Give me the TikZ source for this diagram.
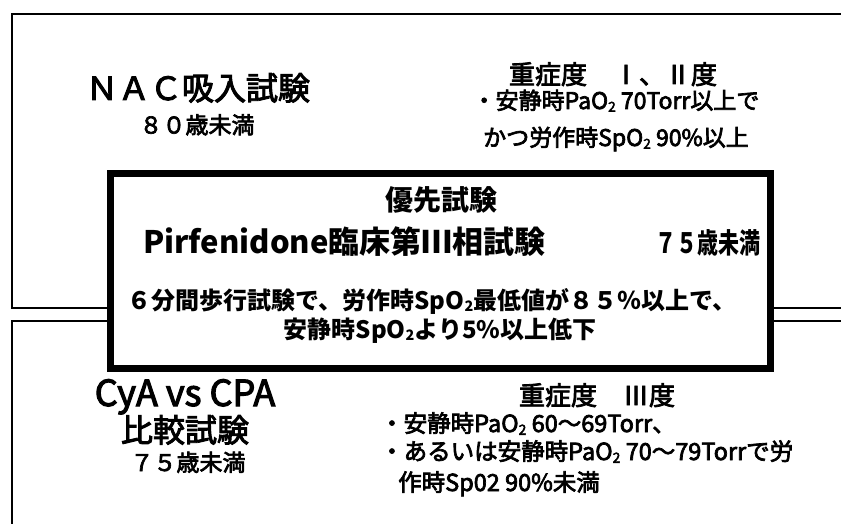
\documentclass[tikz,border=0pt]{standalone}
\usepackage{graphicx}
\usepackage{fontspec}
\setmainfont{Noto Sans CJK JP}
\newfontfamily\jpmed{Noto Sans CJK JP}[FakeBold=3]
\newcommand\mysub[1]{\raisebox{-0.12em}{\scalebox{0.6}{#1}}}
\begin{document}
\begin{tikzpicture}[x=1pt,y=-1pt,
  frame/.style={line width=2pt},
  mainbox/.style={draw, line width=7pt, minimum width=660pt, minimum height=195pt, inner sep=0pt},
  lbl/.style={inner sep=0pt, anchor=base},
  lblw/.style={inner sep=0pt, anchor=base west},
  fs/.style={font=\jpmed\fontsize{#1}{#1}\selectfont},
  fsb/.style={font=\bfseries\fontsize{#1}{#1}\selectfont}
]
\useasboundingbox (0,0) rectangle (841,524);
\fill[white] (0,0) rectangle (841,524);
% frames
\coordinate (tr) at (841,14);
\coordinate (tl) at (12,14);
\coordinate (tbl) at (12,308);
\coordinate (tbm) at (110.5,308);
\coordinate (tbr1) at (770.5,308);
\coordinate (tbr2) at (841,308);
\coordinate (lbm) at (110.5,321);
\coordinate (ltl) at (12,321);
\coordinate (lbl) at (12,524);
\coordinate (ltr1) at (770.5,321);
\coordinate (ltr2) at (841,321);
\draw[frame] (tr) -- (tl) -- (tbl) -- (tbm);
\draw[frame] (tbr1) -- (tbr2);
\draw[frame] (lbm) -- (ltl) -- (lbl);
\draw[frame] (ltr1) -- (ltr2);
% central box
\node[mainbox] (main) at (440.5,271) {};
% top left
\node[lbl, fs=32] (nac) at (198,100) {ＮＡＣ吸入試験};
\node[lbl, fs=23] (nac80) at (197,133.5) {８０歳未満};
% top right
\node[lbl, fs=26] (g12) at (613,84) {重症度　Ⅰ、Ⅱ度};
\node[lbl, fs=23] (g12a) at (616,109) {・安静時PaO\mysub{2} 70Torr以上で};
\node[lbl, fs=23] (g12b) at (616,146) {かつ労作時SpO\mysub{2} 90\%以上};
% central texts
\node[lbl, fsb=28] (prio) at (441,210) {優先試験};
\node[lblw, fsb=31] (pirf) at (143,253) {Pirfenidone臨床第Ⅲ相試験};
\node[lblw, fsb=28] (pirf75) at (655,253) {\scalebox{0.75}[1]{７５歳未満}};
\node[lbl, fsb=24] (walk) at (432,309) {６分間歩行試験で、労作時SpO\mysub{2}最低値が８５％以上で、};
\node[lbl, fsb=24] (rest) at (440,338) {安静時SpO\mysub{2}より5\%以上低下};
% bottom left
\node[lbl, fs=36] (cya) at (185,406) {CyA vs CPA};
\node[lbl, fs=32] (hikaku) at (185,442) {比較試験};
\node[lbl, fs=23] (cya75) at (188,471) {７５歳未満};
% bottom right
\node[lbl, fs=26] (g3) at (597,405) {重症度　Ⅲ度};
\node[lblw, fs=23.5] (g3a) at (380,432) {・安静時PaO\mysub{2} 60～69Torr、};
\node[lblw, fs=23.5] (g3b) at (380,460) {・あるいは安静時PaO\mysub{2} 70～79Torrで労};
\node[lblw, fs=23.5] (g3c) at (398,491) {作時Sp02 90\%未満};
\end{tikzpicture}
\end{document}
